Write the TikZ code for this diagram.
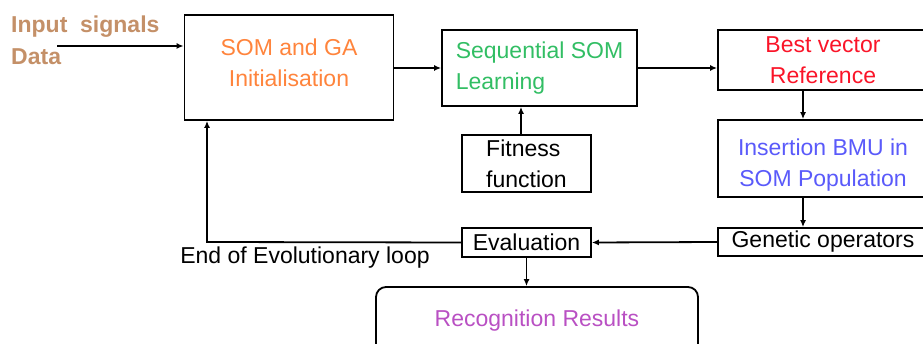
\documentclass[tikz,border=0pt]{standalone}
\usepackage{fontspec}
\setmainfont{Liberation Sans}
\usetikzlibrary{arrows.meta}
\definecolor{inputtan}{RGB}{196,144,104}
\definecolor{somorange}{RGB}{255,132,60}
\definecolor{seqgreen}{RGB}{50,190,100}
\definecolor{bestred}{RGB}{250,20,40}
\definecolor{insblue}{RGB}{90,90,250}
\definecolor{recpurple}{RGB}{185,80,195}

\begin{document}
\begin{tikzpicture}[x=1pt, y=-1pt,
  box/.style={draw, line width=1.8pt, inner sep=0pt, align=center,
    font=\fontsize{23}{31}\selectfont},
  arr/.style={line width=1.8pt, -{Latex[length=7pt,width=6pt]}}]
  \useasboundingbox (0,0) rectangle (923,344);
  \clip (0,0) rectangle (923,344);

  % input text
  \node[anchor=north west, inner sep=0pt, align=left, text=inputtan,
    font=\fontsize{23}{32}\bfseries] (input) at (11,16) {Input\ \ signals\\Data};
  \coordinate (in) at (57,46);

  % boxes
  \node[box, minimum width=209, minimum height=105, text=somorange, text depth=10pt] (som) at (289,67.5) {SOM and GA\\Initialisation};
  \node[box, minimum width=195, minimum height=76, text=seqgreen, align=left] (seq) at (539.5,68) {Sequential SOM\\Learning};
  \node[box, minimum width=210, minimum height=60, text=bestred] (best) at (823,60) {Best vector\\Reference};
  \node[box, minimum width=210, minimum height=77, text=insblue, text height=60pt] (ins) at (823,158.5) {Insertion BMU in\\SOM Population};
  \node[box, minimum width=129, minimum height=57, align=left] (fit) at (526.5,163.5) {Fitness\\function};
  \node[box, minimum width=210, minimum height=28] (gen) at (823,242) {Genetic operators};
  \node[box, minimum width=129, minimum height=29] (eval) at (526.5,242.5) {Evaluation};
  \node[box, rounded corners=10pt, minimum width=322, minimum height=90, text=recpurple,
    text depth=28pt] (rec) at (537,332) {Recognition Results};
  \node[inner sep=0pt, font=\fontsize{23}{31}\selectfont] (endloop) at (305,258) {End of Evolutionary loop};

  % connectors
  \draw[arr] (in) -- (som.west |- in);
  \draw[arr] (som.east |- seq) -- (seq.west);
  \draw[arr] (seq.east) -- (best.west |- seq);
  \draw[arr] (fit.north -| 521,0) -- (seq.south -| 521,0);
  \draw[arr] (best.south -| 803,0) -- (ins.north -| 803,0);
  \draw[arr] (ins.south -| 803,0) -- (gen.north -| 803,0);
  \draw[arr] (gen.west) -- (eval.east);
  \draw[arr] (eval.south) -- (rec.north -| eval.south);
  \coordinate (loop) at (207,242);
  \draw[arr] (eval.west) -- (loop) -- (som.south -| loop);
\end{tikzpicture}
\end{document}
